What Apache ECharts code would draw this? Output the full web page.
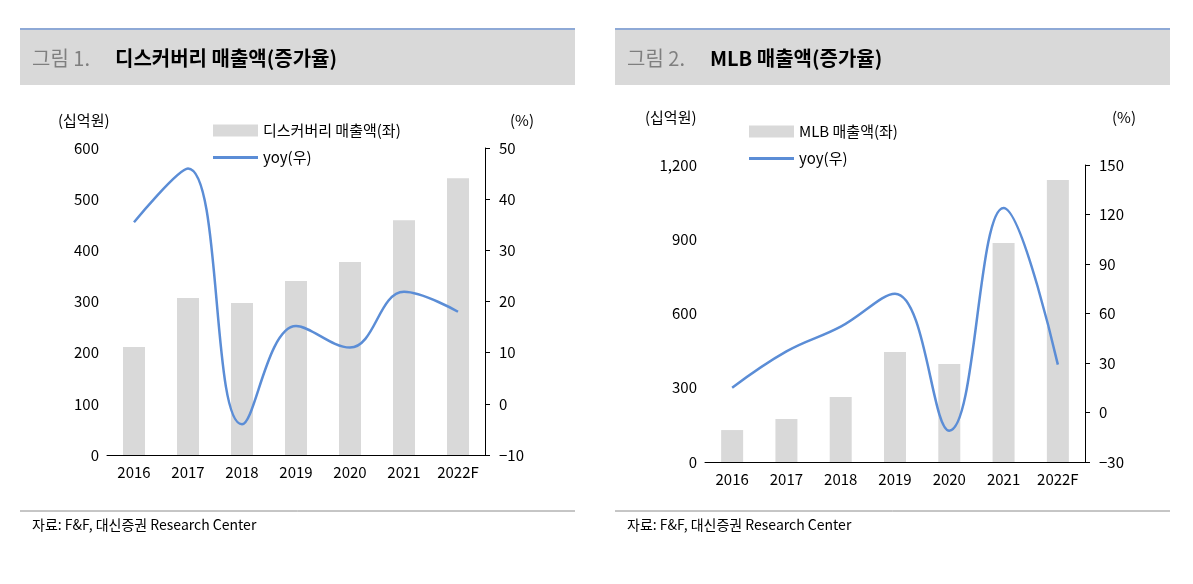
<!DOCTYPE html>
<html><head><meta charset="utf-8">
<script src="https://cdn.jsdelivr.net/npm/echarts@6/dist/echarts.min.js"></script>
<style>html,body{margin:0;background:#fff}#c{width:1193px;height:584px}</style>
</head><body><div id="c"></div>
<script>
var years = ['2016', '2017', '2018', '2019', '2020', '2021', '2022F'];
var discoverySales = [211, 307, 297, 340, 377, 459, 541];
var discoveryYoy = [35.5, 46, -4, 15.2, 11, 21.9, 18];
var mlbSales = [129, 174, 263, 444, 396, 885, 1139];
var mlbYoy = [15, 37, 52, 72, -11, 124, 29];

var FONT = 'Noto Sans CJK KR';
var LINE_ICON = 'path://M0,0 L45,0 L45,3 L0,3 Z';
var chart = echarts.init(document.getElementById('c'));

function panel(x, title1, title2) {
  return [
    {type: 'rect', shape: {x: x, y: 30, width: 555, height: 55}, style: {fill: '#d9d9d9'}},
    {type: 'line', shape: {x1: x, y1: 29, x2: x + 555, y2: 29}, style: {stroke: '#8ea9d6', lineWidth: 2}},
    {type: 'text', x: x + 12, y: 58, style: {text: title1, fill: '#7f7f7f', font: '20px ' + FONT, verticalAlign: 'middle'}},
    {type: 'text', x: x + 95, y: 58, style: {text: title2, fill: '#000', font: 'bold 20px ' + FONT, verticalAlign: 'middle'}},
    {type: 'line', shape: {x1: x, y1: 511, x2: x + 555, y2: 511}, style: {stroke: '#8c8c8c', lineWidth: 1}},
    {type: 'text', x: x + 12, y: 525, style: {text: '자료: F&F, 대신증권 Research Center', fill: '#000', font: '14px ' + FONT, verticalAlign: 'middle'}}
  ];
}

function axisLabel() { return {color: '#000', fontSize: 15, fontFamily: FONT}; }
function neg(v) { return v < 0 ? '\u2212' + (-v) : v; }

var graphic = panel(20, '그림 1.', '디스커버리 매출액(증가율)')
  .concat(panel(615, '그림 2.', 'MLB 매출액(증가율)'))
  .concat([
    {type: 'text', x: 58, y: 120, style: {text: '(십억원)', fill: '#000', font: '15px ' + FONT, verticalAlign: 'middle'}},
    {type: 'text', x: 510, y: 120, style: {text: '(%)', fill: '#000', font: '15px ' + FONT, verticalAlign: 'middle'}},
    {type: 'text', x: 645, y: 117, style: {text: '(십억원)', fill: '#000', font: '15px ' + FONT, verticalAlign: 'middle'}},
    {type: 'text', x: 1112, y: 117, style: {text: '(%)', fill: '#000', font: '15px ' + FONT, verticalAlign: 'middle'}}
  ]);

var option = {
  animation: false,
  textStyle: {fontFamily: FONT},
  graphic: graphic,
  legend: [
    {left: 208, top: 118, orient: 'vertical', itemGap: 12, itemWidth: 45, itemHeight: 12,
     textStyle: {color: '#000', fontSize: 15, fontFamily: FONT},
     data: [{name: '디스커버리 매출액(좌)', icon: 'rect'}, {name: 'yoy(우)', icon: LINE_ICON, itemHeight: 3}]},
    {left: 744, top: 119, orient: 'vertical', itemGap: 12, itemWidth: 45, itemHeight: 12,
     textStyle: {color: '#000', fontSize: 15, fontFamily: FONT},
     data: [{name: 'MLB 매출액(좌)', icon: 'rect'}, {name: 'yoy(우) ', icon: LINE_ICON, itemHeight: 3}]}
  ],
  grid: [
    {left: 107, right: 708, top: 148, bottom: 129},
    {left: 705, right: 108, top: 165, bottom: 122}
  ],
  xAxis: [
    {type: 'category', gridIndex: 0, data: years, axisLine: {lineStyle: {color: '#000'}}, axisTick: {show: false}, axisLabel: Object.assign(axisLabel(), {margin: 10, interval: 0})},
    {type: 'category', gridIndex: 1, data: years, axisLine: {lineStyle: {color: '#000'}}, axisTick: {show: false}, axisLabel: Object.assign(axisLabel(), {margin: 10, interval: 0})}
  ],
  yAxis: [
    {type: 'value', gridIndex: 0, min: 0, max: 600, interval: 100, splitLine: {show: false}, axisLine: {show: false}, axisLabel: axisLabel()},
    {type: 'value', gridIndex: 0, min: -10, max: 50, interval: 10, splitLine: {show: false},
     axisLine: {show: true, lineStyle: {color: '#000'}}, axisTick: {show: true, lineStyle: {color: '#000'}},
     axisLabel: Object.assign(axisLabel(), {margin: 14, formatter: neg})},
    {type: 'value', gridIndex: 1, min: 0, max: 1200, interval: 300, splitLine: {show: false}, axisLine: {show: false},
     axisLabel: Object.assign(axisLabel(), {formatter: function (v) { return v.toLocaleString('en-US'); }})},
    {type: 'value', gridIndex: 1, min: -30, max: 150, interval: 30, splitLine: {show: false},
     axisLine: {show: true, lineStyle: {color: '#000'}}, axisTick: {show: true, lineStyle: {color: '#000'}},
     axisLabel: Object.assign(axisLabel(), {margin: 14, formatter: neg})}
  ],
  series: [
    {name: '디스커버리 매출액(좌)', type: 'bar', xAxisIndex: 0, yAxisIndex: 0, data: discoverySales, barWidth: 22, itemStyle: {color: '#d9d9d9'}},
    {name: 'yoy(우)', type: 'line', xAxisIndex: 0, yAxisIndex: 1, data: discoveryYoy, smooth: 0.4, symbol: 'none', lineStyle: {color: '#5b8dd6', width: 2.5}, itemStyle: {color: '#5b8dd6'}},
    {name: 'MLB 매출액(좌)', type: 'bar', xAxisIndex: 1, yAxisIndex: 2, data: mlbSales, barWidth: 22, itemStyle: {color: '#d9d9d9'}},
    {name: 'yoy(우) ', type: 'line', xAxisIndex: 1, yAxisIndex: 3, data: mlbYoy, smooth: 0.4, symbol: 'none', lineStyle: {color: '#5b8dd6', width: 2.5}, itemStyle: {color: '#5b8dd6'}}
  ]
};
chart.setOption(option);
</script></body></html>
